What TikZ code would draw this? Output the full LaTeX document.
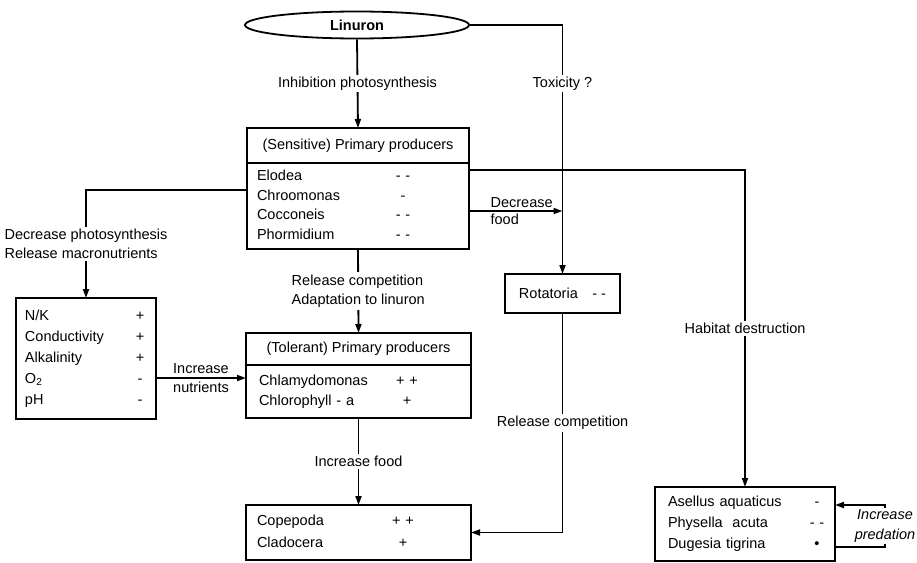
\documentclass[tikz,border=0pt]{standalone}
\usepackage{fontspec}
\setmainfont{Liberation Sans}
\usepackage{array}
\usetikzlibrary{shapes.geometric}
\usetikzlibrary{arrows.meta}
\newcommand{\diagfont}{\fontsize{14.5}{19.5}\selectfont}

\begin{document}
\begin{tikzpicture}[x=1pt, y=-1pt, font=\diagfont, line width=1.8pt,
  >={Triangle[length=9pt,width=6pt]},
  box/.style={draw, outer sep=0pt, inner sep=0pt},
  lbl/.style={fill=white, inner sep=2pt}]
\useasboundingbox (0,0) rectangle (917,562);

\node[ellipse, draw, minimum width=224pt, minimum height=27pt, inner sep=0pt] (linuron) at (357,25) {\bfseries Linuron};

% sensitive producers
\node[box, anchor=north, minimum width=222pt, minimum height=35pt] (sensh) at (358,128) {(Sensitive) Primary producers};
\node[box, anchor=north, text width=222pt, minimum height=86pt, align=left] (sensb) at (sensh.south) {\begin{tabular}{@{\hspace{10pt}}p{131pt}@{}w{c}{30pt}@{}}
Elodea & - -\\ Chroomonas & -\\ Cocconeis & - -\\ Phormidium & - -
\end{tabular}};

% tolerant producers
\node[box, anchor=north, minimum width=225pt, minimum height=32pt] (tolh) at (358.5,333) {(Tolerant) Primary producers};
\node[box, anchor=north, text width=225pt, minimum height=53pt, align=left] (tolb) at (tolh.south) {\begin{tabular}{@{\hspace{13pt}}p{133pt}@{}w{c}{30pt}@{}}
Chlamydomonas & + +\\ Chlorophyll - a & +
\end{tabular}};

\node[box, anchor=north, text width=225pt, minimum height=55pt, align=left] (cop) at (358.5,505) {\begin{tabular}{@{\hspace{11pt}}p{131pt}@{}w{c}{30pt}@{}}
Copepoda & + +\\[2pt] Cladocera & +
\end{tabular}};

\node[box, anchor=north, text width=140pt, minimum height=121pt, align=left] (nk) at (86,298) {\begin{tabular}{@{\hspace{9pt}}p{105pt}@{}w{c}{20pt}@{}}
N/K & +\\[1.5pt] Conductivity & +\\[1.5pt] Alkalinity & +\\[1.5pt] O\textsubscript{2} & -\\[1.5pt] pH & -
\end{tabular}};

\node[box, minimum width=115pt, minimum height=39pt] (rota) at (562.5,293.5) {Rotatoria\quad - -};

\node[box, anchor=north, text width=180pt, minimum height=74pt, align=left] (asel) at (745,487) {\begin{tabular}{@{\hspace{13pt}}p{139pt}@{}w{c}{20pt}@{}}
Asellus aquaticus & -\\[1.5pt] Physella\ \ acuta & - -\\[1.5pt] Dugesia tigrina & \textbullet
\end{tabular}};

% connectors
\draw[->] (linuron.south) -- node[lbl] {Inhibition photosynthesis} (sensh.north);
\draw[->] (linuron.east) -| node[lbl, pos=0.617] {Toxicity ?} (rota.north);
\draw[->] ([yshift=36pt]sensb.east) -| node[lbl, pos=0.75] {Habitat destruction} (asel.north);
\coordinate (foodstart) at ([yshift=-5pt]sensb.east);
\draw[->] (foodstart) -- node[pos=0.2, anchor=south west, inner sep=2pt] {Decrease} node[pos=0.2, anchor=north west, inner sep=2pt] {food} (foodstart -| rota.north);
\draw[->] ([yshift=16pt]sensb.west) -| node[lbl, pos=0.75, align=left] {Decrease photosynthesis\\Release macronutrients} (nk.north);
\draw[->] (sensb.south) -- node[lbl, align=left] {Release competition\\Adaptation to linuron} (tolh.north);
\coordinate (nutend) at ([yshift=13.5pt]tolb.west);
\draw[->] (nutend -| nk.east) -- node[above] {Increase} node[below] {nutrients} (nutend);
\draw[->] (tolb.south) -- node[lbl] {Increase food} (cop.north);
\draw[->] (rota.south) |- node[lbl, pos=0.25] {Release competition} (cop.east);
\draw[->] ([yshift=-23pt]asel.east) -- ++(50,0) |- node[lbl, pos=0.25, align=center, font=\diagfont\itshape] {Increase\\predation} ([yshift=19pt]asel.east);
\end{tikzpicture}
\end{document}
